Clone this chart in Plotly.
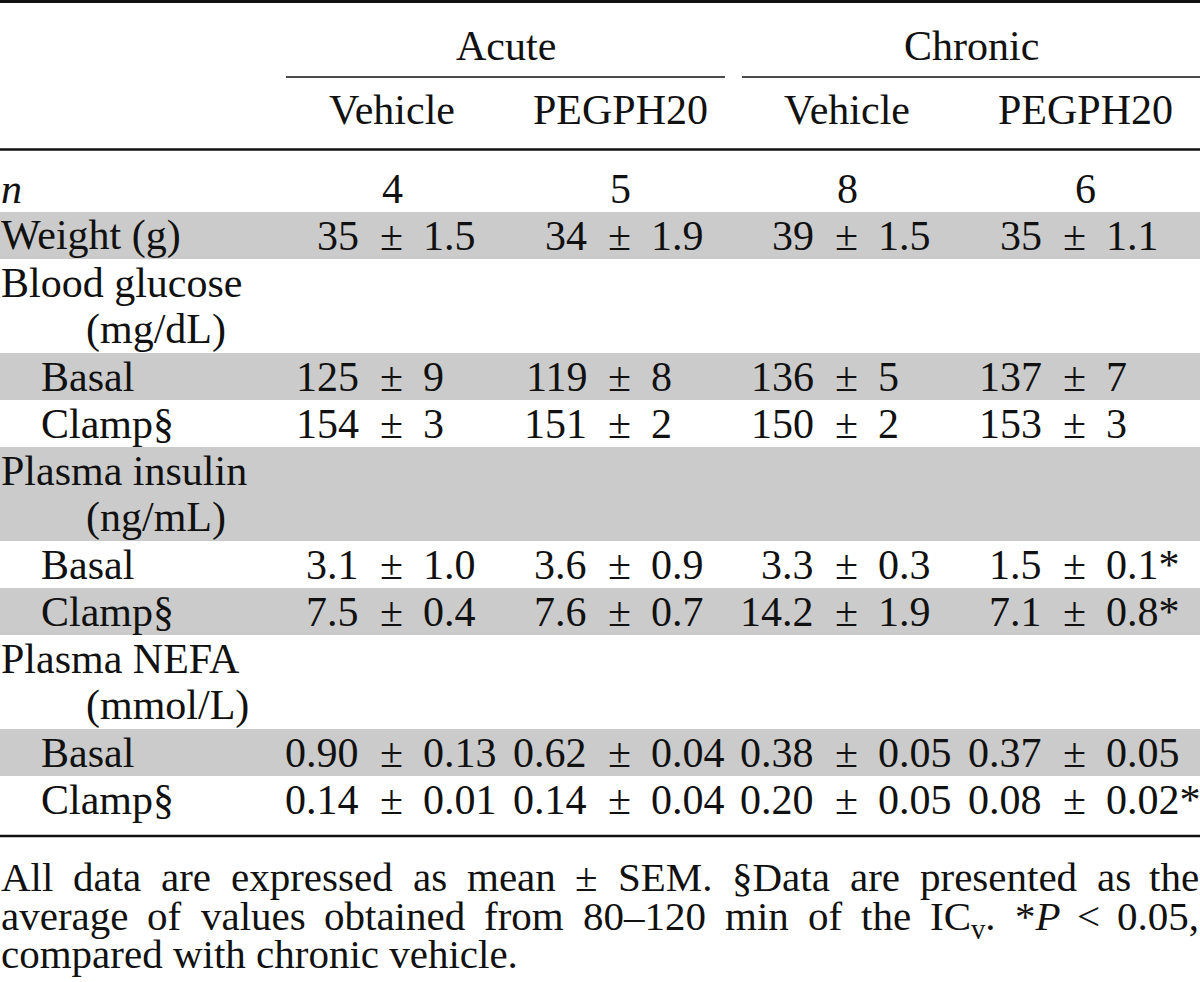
import re
import plotly.graph_objects as go

# ---------------- data ----------------
groups = ["Acute", "Chronic"]
treatments = ["Vehicle", "PEGPH20", "Vehicle", "PEGPH20"]
n_values = ["4", "5", "8", "6"]

row_labels = ["<i>n</i>", "Weight (g)", "Blood glucose", "(mg/dL)", "Basal", "Clamp§",
              "Plasma insulin", "(ng/mL)", "Basal", "Clamp§",
              "Plasma NEFA", "(mmol/L)", "Basal", "Clamp§"]
row_indent = [0, 0, 0, 2, 1, 1, 0, 2, 1, 1, 0, 2, 1, 1]
row_shaded = [False, True, False, False, True, False, True, True, False, True,
              False, False, True, False]

weight_mean = ["35", "34", "39", "35"]
weight_sem = ["1.5", "1.9", "1.5", "1.1"]
glucose_basal_mean = ["125", "119", "136", "137"]
glucose_basal_sem = ["9", "8", "5", "7"]
glucose_clamp_mean = ["154", "151", "150", "153"]
glucose_clamp_sem = ["3", "2", "2", "3"]
insulin_basal_mean = ["3.1", "3.6", "3.3", "1.5"]
insulin_basal_sem = ["1.0", "0.9", "0.3", "0.1*"]
insulin_clamp_mean = ["7.5", "7.6", "14.2", "7.1"]
insulin_clamp_sem = ["0.4", "0.7", "1.9", "0.8*"]
nefa_basal_mean = ["0.90", "0.62", "0.38", "0.37"]
nefa_basal_sem = ["0.13", "0.04", "0.05", "0.05"]
nefa_clamp_mean = ["0.14", "0.14", "0.20", "0.08"]
nefa_clamp_sem = ["0.01", "0.04", "0.05", "0.02*"]

footnote_lines = [
    "All data are expressed as mean ± SEM. §Data are presented as the",
    "average of values obtained from 80–120 min of the IC<sub>v</sub>. *<i>P</i> &lt; 0.05,",
    "compared with chronic vehicle.",
]
footnote_justified = [True, True, False]

row_values = {
    1: (weight_mean, weight_sem),
    4: (glucose_basal_mean, glucose_basal_sem),
    5: (glucose_clamp_mean, glucose_clamp_sem),
    8: (insulin_basal_mean, insulin_basal_sem),
    9: (insulin_clamp_mean, insulin_clamp_sem),
    12: (nefa_basal_mean, nefa_basal_sem),
    13: (nefa_clamp_mean, nefa_clamp_sem),
}

# ---------------- layout geometry ----------------
W, H = 1200, 982
FONT = "Liberation Serif"
FS = 42
FS_NOTE = 41
INK = "#111111"
SHADE = "#cbcbcb"

ROW_TOP0 = 165
ROW_H = 47
TEXT_DY = 0
col_start = [287, 515, 742, 970]
col_center = [392, 620, 847, 1085]
group_span = [(286, 725), (742, 1200)]
indent_x = [0, 40, 85]

# Times-compatible advance widths (per 1000 em) for justification of footnote
TW = {" ": 250, "*": 500, ",": 250, ".": 250, "<": 564, "±": 564, "§": 500, "–": 500,
      "A": 722, "C": 667, "D": 722, "E": 611, "I": 333, "M": 889, "P": 556, "S": 556,
      "a": 444, "b": 500, "c": 444, "d": 500, "e": 444, "f": 333, "g": 500, "h": 500,
      "i": 278, "l": 278, "m": 778, "n": 500, "o": 500, "p": 500, "r": 333, "s": 389,
      "t": 278, "u": 500, "v": 500, "w": 722, "x": 500, "y": 500}
for d in "0123456789":
    TW[d] = 500


def word_width(word, size):
    total = 0.0
    scale = 1.0
    for tok in re.split(r"(<[^>]+>|&lt;)", word):
        if not tok:
            continue
        if tok == "<sub>":
            scale = 0.7
        elif tok == "</sub>":
            scale = 1.0
        elif tok.startswith("<") and tok.endswith(">"):
            continue
        elif tok == "&lt;":
            total += TW["<"] * scale
        else:
            for ch in tok:
                total += TW.get(ch, 500) * scale
    return total * size / 1000.0


fig = go.Figure()
shapes = []
ann = []


def txt(x, y, s, xanchor="center", size=FS, yanchor="middle"):
    ann.append(dict(x=x, y=y, xref="x", yref="y", text=s, showarrow=False,
                    xanchor=xanchor, yanchor=yanchor, borderpad=0,
                    font=dict(family=FONT, size=size, color=INK)))


def hline(x0, x1, y, w):
    shapes.append(dict(type="line", xref="x", yref="y", x0=x0, x1=x1, y0=y, y1=y,
                       line=dict(color=INK, width=w), layer="above"))


# shaded bands
for i, sh in enumerate(row_shaded):
    if sh:
        top = ROW_TOP0 + ROW_H * i
        shapes.append(dict(type="rect", xref="x", yref="y", x0=0, x1=W,
                           y0=top, y1=top + ROW_H, fillcolor=SHADE,
                           line=dict(width=0), layer="below"))

# rules
hline(0, W, 1.5, 3)
hline(0, W, 149.5, 2.5)
hline(0, W, 836, 2.5)
for (a, b) in group_span:
    hline(a, b, 77, 1.5)

# headers
for g, (a, b) in zip(groups, group_span):
    txt((a + b) / 2, 46, g)
for t, cx in zip(treatments, col_center):
    txt(cx, 110, t)

# rows
for i, lab in enumerate(row_labels):
    yc = ROW_TOP0 + ROW_H * i + ROW_H / 2 + TEXT_DY
    txt(indent_x[row_indent[i]], yc, lab, xanchor="left")
    if i == 0:
        for v, cx in zip(n_values, col_center):
            txt(cx, yc, v)
    elif i in row_values:
        means, sems = row_values[i]
        for c, (m, s) in enumerate(zip(means, sems)):
            x0 = col_start[c]
            txt(x0 + 73, yc, m, xanchor="right")
            txt(x0 + 104, yc, "±")
            txt(x0 + 135, yc, s, xanchor="left")

# footnote (first lines justified to the full width); top-anchored so
# words with a subscript keep the same baseline
for k, (line, just) in enumerate(zip(footnote_lines, footnote_justified)):
    ytop = 876 + 38.5 * k - 23
    if not just:
        txt(0, ytop, line, xanchor="left", size=FS_NOTE, yanchor="top")
        continue
    words = line.split(" ")
    widths = [word_width(w, FS_NOTE) for w in words]
    gap = (W - sum(widths)) / (len(words) - 1)
    x = 0.0
    for j, (w, wd) in enumerate(zip(words, widths)):
        if j == len(words) - 1:
            txt(W, ytop, w, xanchor="right", size=FS_NOTE, yanchor="top")
        else:
            txt(x, ytop, w, xanchor="left", size=FS_NOTE, yanchor="top")
        x += wd + gap

fig.update_layout(
    width=W, height=H,
    margin=dict(l=0, r=0, t=0, b=0),
    paper_bgcolor="white", plot_bgcolor="white",
    showlegend=False,
    xaxis=dict(range=[0, W], visible=False, fixedrange=True),
    yaxis=dict(range=[H, 0], visible=False, fixedrange=True),
    shapes=shapes, annotations=ann,
)

fig.write_html(
    "out.html",
    config={"displayModeBar": False},
    post_script="document.body.style.margin='0';document.body.style.overflow='hidden';",
)
